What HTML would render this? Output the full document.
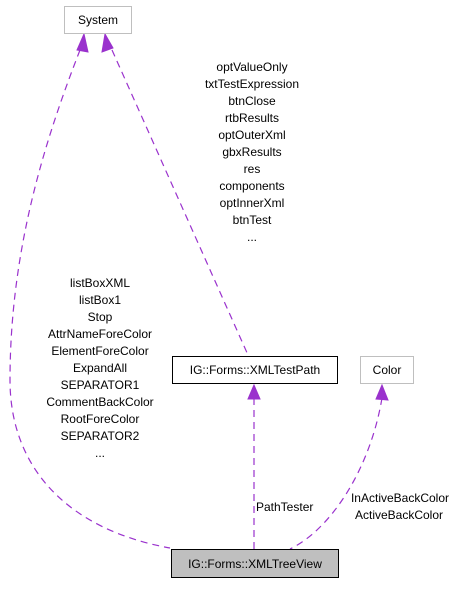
<!DOCTYPE html>
<html><head><style>
body{margin:0;background:#fff;width:458px;height:584px;overflow:hidden}
svg{font-family:"Liberation Sans",Arial,sans-serif;font-size:12px}
</style></head><body>
<svg width="458" height="584" viewBox="0 0 458 584" xmlns="http://www.w3.org/2000/svg">
<g fill="none" stroke="#9a32cd" stroke-width="1.2" stroke-dasharray="7,5">
<path d="M80,50 C45,140 10,250 10,380 C10,470 70,530 170,548"/>
<path d="M112,50 L248,355"/>
<path d="M254,398 L254,549"/>
<path d="M382,398 C370,470 330,530 290,549"/>
</g>
<g fill="#9a32cd" stroke="#9a32cd">
<polygon points="84,34 77,50 88,52"/>
<polygon points="105,34 102,52 113,48"/>
<polygon points="254,385 248,399 260,399"/>
<polygon points="382,385 376,399 388,400"/>
</g>
<rect x="64.5" y="6.5" width="67" height="27" fill="#fff" stroke="#bfbfbf"/>
<text x="98" y="24" text-anchor="middle">System</text>
<rect x="172.5" y="356.5" width="165" height="27" fill="#fff" stroke="#000"/>
<text x="255" y="374" text-anchor="middle">IG::Forms::XMLTestPath</text>
<rect x="360.5" y="356.5" width="53" height="27" fill="#fff" stroke="#bfbfbf"/>
<text x="387" y="374" text-anchor="middle">Color</text>
<rect x="171.5" y="549.5" width="167" height="28" fill="#bfbfbf" stroke="#000"/>
<text x="255" y="568" text-anchor="middle">IG::Forms::XMLTreeView</text>
<g text-anchor="middle">
<text x="100" y="287">listBoxXML</text>
<text x="100" y="304">listBox1</text>
<text x="100" y="321">Stop</text>
<text x="100" y="338">AttrNameForeColor</text>
<text x="100" y="355">ElementForeColor</text>
<text x="100" y="372">ExpandAll</text>
<text x="100" y="389">SEPARATOR1</text>
<text x="100" y="406">CommentBackColor</text>
<text x="100" y="423">RootForeColor</text>
<text x="100" y="440">SEPARATOR2</text>
<text x="100" y="457">...</text>
<text x="252" y="71">optValueOnly</text>
<text x="252" y="88">txtTestExpression</text>
<text x="252" y="105">btnClose</text>
<text x="252" y="122">rtbResults</text>
<text x="252" y="139">optOuterXml</text>
<text x="252" y="156">gbxResults</text>
<text x="252" y="173">res</text>
<text x="252" y="190">components</text>
<text x="252" y="207">optInnerXml</text>
<text x="252" y="224">btnTest</text>
<text x="252" y="241">...</text>
<text x="400" y="502">InActiveBackColor</text>
<text x="399" y="519">ActiveBackColor</text>
</g>
<text x="256" y="511">PathTester</text>
</svg>
</body></html>
